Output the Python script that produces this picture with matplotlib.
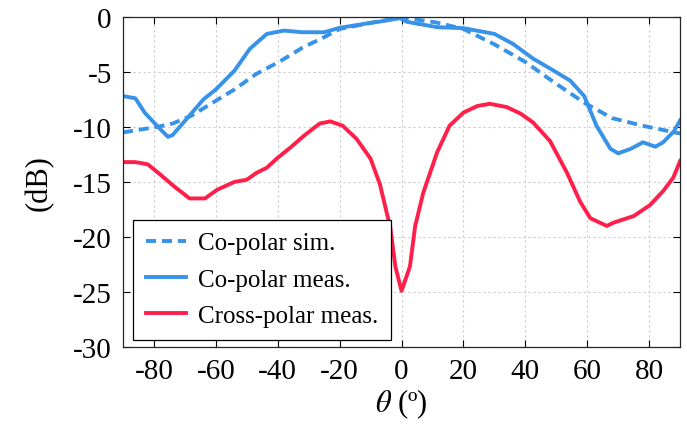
import numpy as np
import matplotlib
matplotlib.use("Agg")
import matplotlib.pyplot as plt

plt.rcParams["font.family"] = ["Liberation Serif", "DejaVu Serif"]
plt.rcParams["mathtext.fontset"] = "stix"
plt.rcParams["axes.unicode_minus"] = False

# Co-polar simulado
theta_sim = [-90, -79, -74, -68, -61, -54, -47, -39, -32, -25, -20, -9, 0,
             11, 20, 30, 40, 49, 59, 68, 78, 90]
copol_sim = [-10.5, -10.0, -9.7, -9.0, -7.8, -6.6, -5.2, -4.0, -2.8, -1.85, -1.1, -0.5, -0.05,
             -0.5, -1.1, -2.5, -4.1, -5.9, -7.8, -9.2, -9.9, -10.6]

# Co-polar medido
theta_co = [-90, -86, -83, -79, -75.5, -74, -69.5, -64, -60, -54, -49, -43.5, -38, -32, -25,
            -20, -9, -7, -0.5, 1.7, 11.5, 20, 30, 36, 42.5, 48, 54.5, 59, 63, 67.5, 70,
            74, 78, 82, 84.5, 88, 90]
copol_meas = [-7.2, -7.4, -8.7, -9.9, -10.9, -10.75, -9.3, -7.5, -6.6, -4.9, -2.9, -1.55,
              -1.25, -1.4, -1.4, -1.0, -0.5, -0.43, -0.12, -0.45, -0.94, -1.03, -1.55, -2.46,
              -3.8, -4.7, -5.8, -7.2, -9.9, -12.0, -12.4, -12.0, -11.4, -11.8, -11.4, -10.4,
              -9.4]

# Cross-polar medido
theta_x = [-90, -86, -82, -78.5, -73.5, -68.5, -63.5, -59.5, -54, -50, -47, -43.5, -40, -36,
           -31.5, -26.5, -23, -19, -14.5, -10, -7, -4.8, -3.7, -2, 0, 2.7, 4.4, 7, 11.5,
           15.5, 20, 24.5, 28.5, 34, 38.5, 42.5, 48, 53.5, 57.7, 61, 66.3, 68.5, 75, 80.3,
           84.6, 87.8, 90]
xpol_meas = [-13.2, -13.2, -13.4, -14.2, -15.4, -16.5, -16.5, -15.7, -15.0, -14.8, -14.2,
             -13.7, -12.8, -11.9, -10.8, -9.7, -9.5, -9.9, -11.1, -12.9, -15.2, -17.8, -19.0,
             -22.7, -24.9, -22.7, -19.0, -16.0, -12.3, -9.9, -8.7, -8.1, -7.9, -8.2, -8.8,
             -9.6, -11.3, -14.2, -16.8, -18.3, -19.0, -18.7, -18.1, -17.1, -15.8, -14.6, -13.1]

azul = "#3893e8"
rojo = "#ff1f4b"

fig = plt.figure(figsize=(6.87, 4.35), dpi=100)
ax = fig.add_axes([0.179, 0.2, 0.811, 0.759])

ax.plot(theta_sim, copol_sim, color=azul, lw=2.8, ls=(0, (2.6, 1.5)), label="Co-polar sim.")
ax.plot(theta_co, copol_meas, color=azul, lw=2.8, label="Co-polar meas.")
ax.plot(theta_x, xpol_meas, color=rojo, lw=2.8, label="Cross-polar meas.")

ax.set_xlim(-90, 90)
ax.set_ylim(-30, 0)
ax.set_xticks(np.arange(-80, 81, 20))
ax.set_yticks(np.arange(-30, 1, 5))
ax.grid(True, ls=(0, (2, 2.5)), color="#cccccc", lw=0.8)
ax.tick_params(direction="in", top=True, right=True, labelsize=21, length=5, width=0.8,
               pad=8)
for s in ax.spines.values():
    s.set_linewidth(0.9)
    s.set_color("#262626")

ax.set_xlabel(r"$\theta$ (º)", fontsize=22, labelpad=2)
ax.set_ylabel("(dB)", fontsize=22, labelpad=14)

leg = ax.legend(loc="lower left", bbox_to_anchor=(0.005, 0.0), fontsize=18,
                fancybox=False, edgecolor="black", framealpha=1, handlelength=1.6,
                borderpad=0.5, labelspacing=0.55, handletextpad=0.5, borderaxespad=0.3)
leg.get_frame().set_linewidth(0.9)

fig.savefig("out.png", dpi=100)
